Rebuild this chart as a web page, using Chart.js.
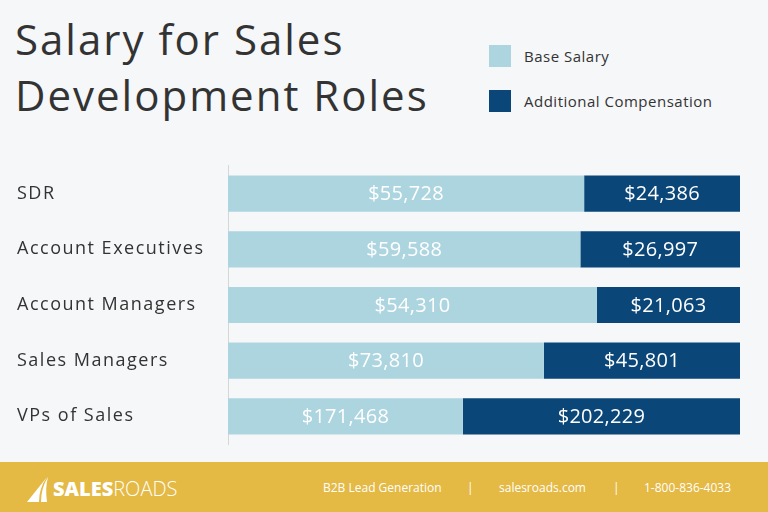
<!DOCTYPE html>
<html lang="en">
<head>
  <meta charset="UTF-8">
  <title>Salary for Sales Development Roles</title>
  <script src="https://cdn.jsdelivr.net/npm/chart.js"></script>
  <style>
    html, body { margin: 0; padding: 0; }
    body {
      width: 768px; height: 512px; overflow: hidden;
      background: #f6f7f9; position: relative;
      font-family: "Open Sans", sans-serif; color: #333;
    }
    .title {
      position: absolute; left: 15px; top: 11px; margin: 0;
      font-size: 42px; font-weight: 400; line-height: 56px; letter-spacing: 2px;
    }
    .legend { position: absolute; left: 489px; top: 45px; }
    .legend div { display: flex; align-items: center; height: 22px; margin-bottom: 23px; font-size: 15px; letter-spacing: 0.5px; }
    .legend span { width: 22px; height: 22px; margin-right: 13px; display: inline-block; }
    .chart-box { position: absolute; left: 0; top: 152px; width: 768px; height: 306px; }
    .footer {
      position: absolute; left: 0; top: 462px; width: 768px; height: 50px;
      background: #e4b944; color: #fff;
    }
    .logo { position: absolute; left: 27px; top: 13px; display: flex; align-items: center; font-size: 20px; }
    .logo b { font-weight: 800; }
    .logo i { font-style: normal; font-weight: 300; }
    .info { position: absolute; top: 17px; font-size: 12px; }
  </style>
</head>
<body>
  <h1 class="title">Salary for Sales<br>Development Roles</h1>
  <div class="legend">
    <div><span style="background:#add5df"></span>Base Salary</div>
    <div><span style="background:#0a4678"></span>Additional Compensation</div>
  </div>
  <div class="chart-box"><canvas id="salaryChart"></canvas></div>
  <div class="footer">
    <div class="logo">
      <svg width="26" height="26" viewBox="0 0 26 26"><path d="M0 26 L20 1 Q12 12 12 26 Z M14 26 Q14 12 21 1 Q18 12 20 26 Z" fill="#fff"/></svg>
      <b>SALES</b><i>ROADS</i>
    </div>
    <div class="info" style="left:323px">B2B Lead Generation</div>
    <div class="info" style="left:467px">|</div>
    <div class="info" style="left:499px">salesroads.com</div>
    <div class="info" style="left:613px">|</div>
    <div class="info" style="left:644px">1-800-836-4033</div>
  </div>

<script>
  const roles = ["SDR", "Account Executives", "Account Managers", "Sales Managers", "VPs of Sales"];
  const baseSalary = [55728, 59588, 54310, 73810, 171468];
  const addComp = [24386, 26997, 21063, 45801, 202229];

  // bars are 100% stacked, labels show the dollar values
  const totals = baseSalary.map((v, i) => v + addComp[i]);
  const basePct = baseSalary.map((v, i) => v / totals[i] * 100);
  const addPct = addComp.map((v, i) => v / totals[i] * 100);

  const money = v => "$" + v.toLocaleString("en-US");

  // wider tracking for the category labels
  const spacing = {
    id: "spacing",
    beforeDraw(chart) { chart.ctx.letterSpacing = "1.5px"; }
  };

  const valueLabels = {
    id: "valueLabels",
    afterDatasetsDraw(chart) {
      const ctx = chart.ctx;
      const raw = [baseSalary, addComp];
      ctx.save();
      ctx.letterSpacing = "0.3px";
      ctx.fillStyle = "#fff";
      ctx.font = '20px "Open Sans", sans-serif';
      ctx.textAlign = "center";
      ctx.textBaseline = "middle";
      chart.data.datasets.forEach((ds, di) => {
        chart.getDatasetMeta(di).data.forEach((bar, i) => {
          const p = bar.getProps(["x", "y", "base"], true);
          ctx.fillText(money(raw[di][i]), (p.x + p.base) / 2, p.y + 1);
        });
      });
      ctx.restore();
    }
  };

  new Chart(document.getElementById("salaryChart"), {
    type: "bar",
    data: {
      labels: roles,
      datasets: [
        { label: "Base Salary", data: basePct, backgroundColor: "#add5df" },
        { label: "Additional Compensation", data: addPct, backgroundColor: "#0a4678" }
      ]
    },
    options: {
      indexAxis: "y",
      responsive: true,
      maintainAspectRatio: false,
      animation: false,
      barPercentage: 0.65,
      categoryPercentage: 1,
      layout: { padding: { left: 17, right: 28, top: 0, bottom: 0 } },
      plugins: { legend: { display: false }, tooltip: { enabled: false } },
      scales: {
        x: { stacked: true, min: 0, max: 100, display: false },
        y: {
          stacked: true,
          grid: { display: false },
          border: { display: true, color: "#d6d6d6", width: 1 },
          ticks: { crossAlign: "far", color: "#333", font: { family: "Open Sans", size: 18 } },
          afterFit(scale) { scale.width = 211; }
        }
      }
    },
    plugins: [spacing, valueLabels]
  });
</script>
</body>
</html>
